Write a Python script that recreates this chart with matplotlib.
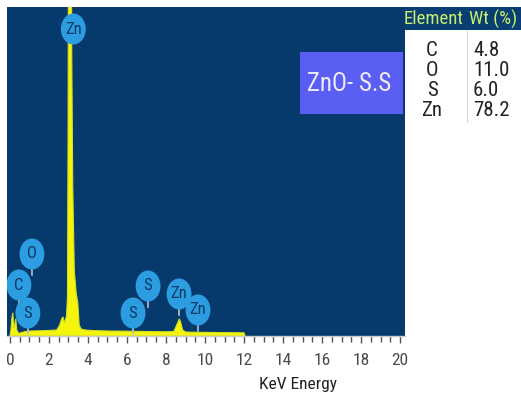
import matplotlib
matplotlib.use("Agg")
import matplotlib.pyplot as plt
import matplotlib.font_manager as fm
import numpy as np
from matplotlib.path import Path
from matplotlib.patches import Rectangle
from matplotlib.lines import Line2D

# spectrum (keV, counts)
energy = [0.0, 0.05, 0.1, 0.15, 0.2, 0.25, 0.3, 0.35, 0.45, 0.6, 0.8, 1.0, 1.5, 2.0,
          2.4, 2.55, 2.65, 2.72, 2.8, 2.9, 2.95, 2.98, 3.02, 3.12, 3.17, 3.22, 3.3,
          3.4, 3.48, 3.55, 3.65, 3.85, 4.2, 5.0, 6.0, 7.0, 8.0, 8.4, 8.55, 8.68, 8.75,
          8.85, 9.0, 9.3, 10.0, 11.0, 12.0, 12.05]
counts = [0, 60, 180, 230, 80, 120, 170, 60, 25, 35, 45, 50, 52, 55,
          60, 110, 170, 190, 130, 200, 400, 2000, 6000, 6000, 2800, 1500, 650,
          420, 330, 110, 70, 60, 55, 50, 48, 45, 42, 45, 110, 170, 140,
          60, 40, 38, 36, 34, 32, 0]

# peak labels
peak_names = ["Zn", "O", "C", "S", "S", "S", "Zn", "Zn"]
peak_kev = [3.25, 1.13, 0.46, 0.92, 6.31, 7.08, 8.67, 9.64]
peak_height = [3070, 820, 510, 230, 230, 500, 420, 260]

# composition table
elements = ["C", "O", "S", "Zn"]
wt_pct = ["4.8", "11.0", "6.0", "78.2"]

W, H = 521, 394
NAVY = "#063a6c"

# the picture uses a condensed face; take one if the box has it
have = {f.name for f in fm.fontManager.ttflist}
NARROW, k = "Liberation Sans", 0.8
for cand in ["Liberation Sans Narrow", "Roboto Condensed", "DejaVu Sans Condensed"]:
    if cand in have:
        NARROW, k = cand, 1.0
        break

fig = plt.figure(figsize=(W / 100, H / 100), dpi=100)
fig.patch.set_facecolor("white")

def fx(x):
    return x / W

def fy(y):
    return 1 - y / H

ax = fig.add_axes([fx(7), fy(336), (405 - 7) / W, (336 - 7) / H])
ax.set_facecolor(NAVY)
ax.fill_between(energy, counts, 0, color="#f4f40c", edgecolor="#d5e020", linewidth=0.8, zorder=2)
ax.set_xlim(-0.15, 20.25)
ax.set_ylim(0, 3290)

for s in ["top", "right", "left"]:
    ax.spines[s].set_visible(False)
ax.spines["bottom"].set_color("#c8ccd4")
ax.spines["bottom"].set_linewidth(1.0)
ax.set_yticks([])
ax.set_xticks(np.arange(0, 21, 2))
ax.set_xticks(np.arange(0, 20.5, 0.5), minor=True)
ax.tick_params(axis="x", which="major", direction="out", length=5, width=1, color="#555555",
               labelcolor="#4a4a4a", pad=7)
ax.tick_params(axis="x", which="minor", direction="out", length=4, width=1, color="#555555")
for lab in ax.get_xticklabels():
    lab.set_family(NARROW)
    lab.set_fontsize(12.5 * k)

# elliptical peak markers
circ = Path.unit_circle()
ell = Path(circ.vertices * np.array([0.8, 1.0]), circ.codes)
for name, xk, yc in zip(peak_names, peak_kev, peak_height):
    if yc < 1500:
        ax.plot([xk, xk], [yc - 120, yc - 210], color="#b8c0cc", lw=1.2, zorder=3)
    ax.scatter([xk], [yc], marker=ell, s=500, color="#2d9de2", edgecolors="none", zorder=4)
    ax.text(xk, yc, name, ha="center", va="center", fontsize=12 * (0.5 + k / 2),
            color="#0b3a66", family=NARROW, zorder=5)

# sample label box
fig.patches.append(Rectangle((fx(300), fy(114)), 103 / W, 62 / H, transform=fig.transFigure,
                             facecolor="#5b5ef2", edgecolor="none", zorder=5))
fig.text(fx(349), fy(84), "ZnO- S.S", ha="center", va="center", fontsize=18 * k,
         color="#ececf8", family=NARROW, zorder=6)

# table
fig.patches.append(Rectangle((fx(405), fy(30)), 116 / W, 23 / H, transform=fig.transFigure,
                             facecolor="#083e72", edgecolor="none"))
fig.lines.append(Line2D([fx(467), fx(467)], [fy(30), fy(122)], transform=fig.transFigure,
                        color="#d8d8d8", lw=0.8))
fig.text(fx(434), fy(19), "Element", ha="center", va="center", fontsize=13.5 * k,
         color="#c6ee6c", family=NARROW)
fig.text(fx(493), fy(19), "Wt (%)", ha="center", va="center", fontsize=13.5 * k,
         color="#c6ee6c", family=NARROW)
row_y = [51, 71, 91, 111]
for el, wt, ry in zip(elements, wt_pct, row_y):
    fig.text(fx(432), fy(ry), el, ha="center", va="center", fontsize=15 * (0.3 + 0.7 * k),
             color="#222222", family=NARROW)
    fig.text(fx(473), fy(ry), wt, ha="left", va="center", fontsize=15 * (0.3 + 0.7 * k),
             color="#222222", family=NARROW)

fig.text(fx(298), fy(384), "KeV Energy", ha="center", va="center", fontsize=12.5 * k,
         color="#222222", family=NARROW)

fig.savefig("out.png", dpi=100)
